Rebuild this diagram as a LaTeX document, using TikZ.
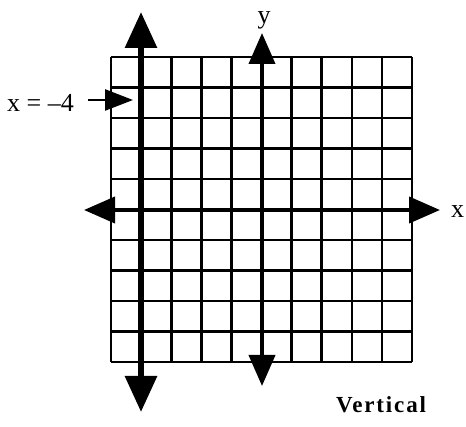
\documentclass[tikz,border=0pt]{standalone}
\usepackage{fontspec}
\setmainfont{Liberation Serif}
\newfontfamily\spacedfont[LetterSpace=8]{Liberation Serif}
\usetikzlibrary{arrows.meta}
\tikzset{
  gridline/.style={line width=2.6pt, black},
  bigline/.style={line width=6pt, {Triangle[length=36pt,width=31pt]}-{Triangle[length=36pt,width=31pt]}},
  axisline/.style={line width=4pt, {Triangle[length=31pt,width=26pt]}-{Triangle[length=31pt,width=26pt]}},
  pointer/.style={line width=2.5pt, -{Triangle[length=28pt,width=21pt]}},
  lbl/.style={font=\fontsize{26}{26}\selectfont, inner sep=0pt},
}
\begin{document}
\begin{tikzpicture}[x=1pt,y=-1pt]
\useasboundingbox (0,0) rectangle (466,427);
% grid
\foreach \i in {0,...,10}{
  \draw[gridline] ({111+\i*30.1},57) -- ({111+\i*30.1},362);
  \draw[gridline] (111,{57+\i*30.5}) -- (412,{57+\i*30.5});
}
% coordinates
\coordinate (vt) at (141,12);
\coordinate (vb) at (141,412);
\coordinate (yt) at (262,33);
\coordinate (yb) at (262,386);
\coordinate (xl) at (84,210);
\coordinate (xr) at (440,210);
% axes
\draw[axisline] (yb) -- (yt);
\draw[axisline] (xl) -- (xr);
% vertical line x=-4
\draw[bigline] (vb) -- (vt);
% labels
\node[lbl] (ylab) at (264,20) {y};
\node[lbl, anchor=west] (xlab) at (451,212) {x};
\node[lbl, anchor=base west] (eq) at (7,112) {x = –4};
\coordinate (ps) at (88,100);
\coordinate (pe) at (133,100);
\draw[pointer] (ps) -- (pe);
\node[font=\spacedfont\bfseries\fontsize{23}{23}\selectfont, anchor=base, inner sep=0pt] (title) at (381,413) {Vertical};
\end{tikzpicture}
\end{document}
